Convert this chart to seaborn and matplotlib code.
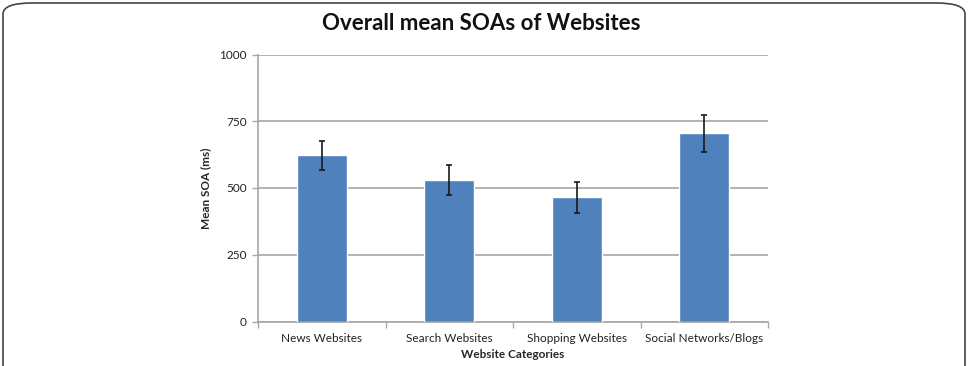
import matplotlib
matplotlib.use("Agg")
import matplotlib.pyplot as plt
import seaborn as sns
import pandas as pd
import numpy as np
from matplotlib.patches import FancyBboxPatch

categories = ["News Websites", "Search Websites", "Shopping Websites", "Social Networks/Blogs"]
means = [622, 530, 466, 705]
errors = [55, 57, 58, 70]
yticks = [0, 250, 500, 750, 1000]

sns.set_theme(style="white")
plt.rcParams['font.family'] = ['Lato', 'DejaVu Sans']

fig = plt.figure(figsize=(9.69, 3.66), dpi=100)
ax = fig.add_axes([258/969, 1-321.5/366, (768-258)/969, (321.5-54.5)/366])

df = pd.DataFrame({"cat": categories, "mean": means})
sns.barplot(data=df, x="cat", y="mean", color="#4F81BD", saturation=1,
            width=0.39, errorbar=None, ax=ax, zorder=3)
ax.errorbar(np.arange(len(categories)), means, yerr=errors, fmt="none",
            ecolor="#1a1a1a", elinewidth=1.2, capsize=2.5, capthick=1.2, zorder=4)

ax.set_ylim(0, 1000)
ax.set_xlim(-0.5, len(categories) - 0.5)
ax.set_yticks(yticks)
ax.set_yticklabels([str(t) for t in yticks], fontsize=8.5, color="#222222")
ax.yaxis.grid(True, color="#A6A6A6", linewidth=1.2, zorder=0)
ax.set_axisbelow(True)

ax.set_xticks(np.arange(len(categories)))
ax.set_xticklabels(categories, fontsize=8.5, color="#222222")
ax.set_xticks(np.arange(-0.5, len(categories)), minor=True)
ax.tick_params(axis="x", which="major", length=0, pad=8)
ax.tick_params(axis="x", which="minor", length=4, color="#A6A6A6", width=1, direction="out", bottom=True)
ax.tick_params(axis="y", which="major", length=4, color="#A6A6A6", width=1, direction="out", left=True, pad=4)

for s in ["top", "right"]:
    ax.spines[s].set_visible(False)
for s in ["left", "bottom"]:
    ax.spines[s].set_color("#A6A6A6")
    ax.spines[s].set_linewidth(1.2)

ax.set_xlabel("Website Categories", fontsize=8.5, fontweight="bold", labelpad=4)
ax.set_ylabel("Mean SOA (ms)", fontsize=8.5, fontweight="bold", labelpad=6)

fig.text(481/969, 1-24/366, "Overall mean SOAs of Websites", ha="center", va="center",
         fontsize=16, fontweight="bold", color="#111111")

frame = FancyBboxPatch((3/969, -0.2), 962/969, 1.2 - 3/366,
                       boxstyle="round,pad=0,rounding_size=0.03",
                       transform=fig.transFigure, fill=False,
                       edgecolor="#444444", linewidth=1.2, clip_on=False)
fig.patches.append(frame)

fig.savefig("out.png", dpi=100)
